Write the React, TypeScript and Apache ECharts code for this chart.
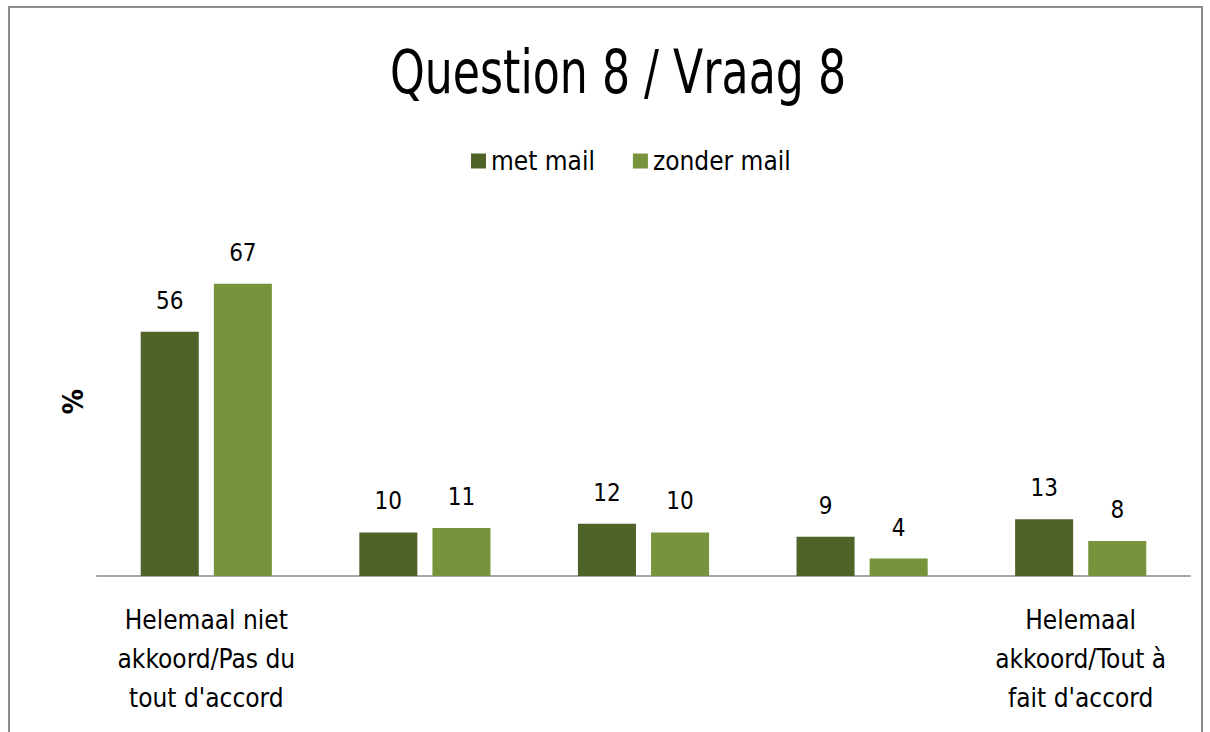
import React, { useEffect, useRef } from "react";
import * as echarts from "echarts";

const categories = [
  "Helemaal niet\nakkoord/Pas du\ntout d'accord",
  "",
  "",
  "",
  "Helemaal\nakkoord/Tout à\nfait d'accord",
];
const metMail = [56, 10, 12, 9, 13];
const zonderMail = [67, 11, 10, 4, 8];
const seriesNames = ["met mail", "zonder mail"];
const colors = ["#4F6228", "#77933C"];
const titleText = "Question 8 / Vraag 8";
const FONT = "'Liberation Sans Narrow', 'DejaVu Sans Condensed', 'Roboto Condensed', sans-serif";

export default function App() {
  const ref = useRef<HTMLDivElement>(null);
  useEffect(() => {
    if (!ref.current) return;
    const chart = echarts.init(ref.current, null, { renderer: "svg" });
    const label = {
      show: true,
      position: "top",
      distance: 19,
      color: "#000",
      fontSize: 24,
      fontFamily: FONT,
    };
    chart.setOption({
      animation: false,
      backgroundColor: "#fff",
      legend: {
        data: seriesNames,
        top: 143,
        left: 466,
        itemWidth: 15,
        itemHeight: 15,
        itemGap: 38,
        icon: "rect",
        textStyle: { fontFamily: FONT, fontSize: 26, color: "#000" },
      },
      graphic: [
        {
          type: "rect",
          shape: { x: 9, y: 7, width: 1193, height: 760 },
          style: { fill: "none", stroke: "#8c8c8c", lineWidth: 2 },
          silent: true,
        },
        {
          type: "text",
          x: 618,
          y: 72,
          scaleX: 0.82,
          style: {
            text: titleText,
            x: 0,
            y: 0,
            textAlign: "center",
            textVerticalAlign: "middle",
            fontFamily: FONT,
            fontSize: 60,
            fill: "#000",
          },
          silent: true,
        },
      ],
      grid: { left: 97, right: 20, top: 227, bottom: 156 },
      xAxis: {
        type: "category",
        data: categories,
        axisTick: { show: false },
        axisLine: { lineStyle: { color: "#a6a6a6", width: 2 } },
        axisLabel: {
          interval: 0,
          color: "#000",
          fontFamily: FONT,
          fontSize: 26,
          lineHeight: 39,
          margin: 24,
        },
      },
      yAxis: {
        type: "value",
        min: 0,
        max: 80,
        show: true,
        name: "%",
        nameLocation: "middle",
        nameGap: 10,
        nameRotate: 90,
        nameTextStyle: { fontFamily: FONT, fontSize: 28, fontWeight: "bold", color: "#000" },
        axisLine: { show: false },
        axisTick: { show: false },
        axisLabel: { show: false },
        splitLine: { show: false },
      },
      series: [
        {
          name: seriesNames[0],
          type: "bar",
          data: metMail,
          itemStyle: { color: colors[0] },
          barGap: "26%",
          barCategoryGap: "40%",
          label,
        },
        {
          name: seriesNames[1],
          type: "bar",
          data: zonderMail,
          itemStyle: { color: colors[1] },
          label,
        },
      ],
    });
    return () => chart.dispose();
  }, []);
  return (
    <div
      ref={ref}
      style={{ position: "fixed", left: 0, top: 0, width: 1210, height: 732 }}
    />
  );
}
